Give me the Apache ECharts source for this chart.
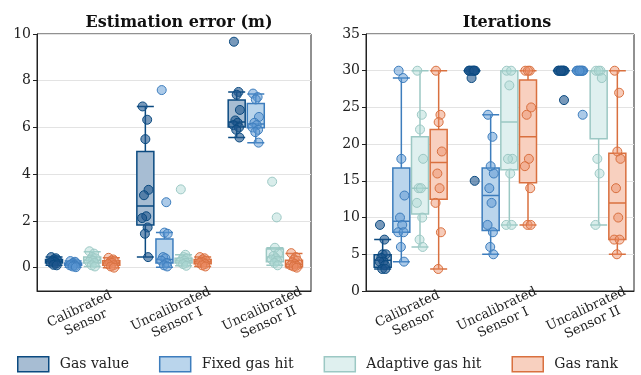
<!DOCTYPE html>
<html>
<head>
<meta charset="utf-8">
<script src="https://cdn.jsdelivr.net/npm/echarts@6/dist/echarts.min.js"></script>
<style>
  html, body { margin: 0; padding: 0; background: #fff; }
  #main { width: 641px; height: 375px; }
</style>
</head>
<body>
<div id="main"></div>
<script>
// 类别 / 系列
const CATS = ['Calibrated\nSensor', 'Uncalibrated\nSensor I', 'Uncalibrated\nSensor II'];
const NAMES = ['Gas value', 'Fixed gas hit', 'Adaptive gas hit', 'Gas rank'];
const ERR_TICKS = [0, 2, 4, 6, 8, 10];

// Estimation error: box stats [min, Q1, median, Q3, max] per category
const ERR_GAS_VALUE_BOX = [[0.1, 0.2, 0.27, 0.35, 0.45], [0.45, 1.82, 2.64, 4.97, 6.9], [5.57, 6.02, 6.23, 7.17, 7.52]];
const ERR_FIXED_BOX = [[0.02, 0.1, 0.15, 0.2, 0.28], [0.02, 0.2, 0.35, 1.23, 1.5], [5.35, 5.99, 6.15, 7.03, 7.43]];
const ERR_ADAPTIVE_BOX = [[0.05, 0.2, 0.32, 0.45, 0.68], [0.08, 0.2, 0.3, 0.4, 0.55], [0.1, 0.25, 0.45, 0.8, 0.85]];
const ERR_RANK_BOX = [[0.0, 0.1, 0.2, 0.3, 0.42], [0.05, 0.17, 0.25, 0.35, 0.45], [0.0, 0.05, 0.15, 0.32, 0.6]];

// Estimation error: individual runs
const ERR_GAS_VALUE_PTS = [[0.45, 0.4, 0.35, 0.32, 0.28, 0.25, 0.22, 0.18, 0.12, 0.1], [6.9, 6.33, 5.5, 3.33, 3.1, 2.2, 2.12, 1.72, 1.45, 0.45], [9.67, 7.52, 7.4, 6.75, 6.3, 6.2, 6.1, 6.0, 5.9, 5.57]];
const ERR_FIXED_PTS = [[0.28, 0.25, 0.2, 0.18, 0.15, 0.12, 0.1, 0.08, 0.05, 0.02], [7.6, 2.8, 1.5, 1.45, 0.45, 0.4, 0.3, 0.2, 0.1, 0.05], [7.45, 7.3, 7.2, 6.45, 6.2, 6.1, 6.0, 5.9, 5.8, 5.35]];
const ERR_ADAPTIVE_PTS = [[0.7, 0.6, 0.45, 0.4, 0.35, 0.3, 0.25, 0.2, 0.1, 0.05], [3.35, 0.55, 0.45, 0.4, 0.35, 0.3, 0.25, 0.2, 0.15, 0.08], [3.68, 2.15, 0.85, 0.6, 0.5, 0.4, 0.35, 0.3, 0.2, 0.1]];
const ERR_RANK_PTS = [[0.42, 0.35, 0.3, 0.28, 0.22, 0.2, 0.15, 0.1, 0.05, 0.0], [0.45, 0.4, 0.35, 0.3, 0.25, 0.22, 0.2, 0.15, 0.1, 0.05], [0.62, 0.45, 0.35, 0.3, 0.22, 0.15, 0.1, 0.08, 0.05, 0.0]];

// Iterations: box stats
const IT_GAS_VALUE_BOX = [[3, 3.25, 4.2, 4.95, 7], [30, 30, 30, 30, 30], [30, 30, 30, 30, 30]];
const IT_FIXED_BOX = [[4, 8, 9.5, 16.75, 29], [5, 8.25, 13, 16.75, 24], [30, 30, 30, 30, 30]];
const IT_ADAPTIVE_BOX = [[6, 10.5, 14, 21, 30], [9, 16.5, 23, 30, 30], [9, 20.75, 30, 30, 30]];
const IT_RANK_BOX = [[3, 12.5, 17.5, 22, 30], [9, 14.75, 21, 28.75, 30], [5, 7, 12, 18.75, 30]];

// Iterations: individual runs
const IT_GAS_VALUE_PTS = [[9, 7, 5, 5, 4.5, 4, 4, 3.5, 3, 3], [30, 30, 30, 30, 30, 30, 30, 30, 29, 15], [30, 30, 30, 30, 30, 30, 30, 30, 30, 26]];
const IT_FIXED_PTS = [[30, 29, 18, 13, 10, 9, 8, 8, 6, 4], [24, 21, 17, 16, 14, 12, 9, 8, 6, 5], [30, 30, 30, 30, 30, 30, 30, 30, 30, 24]];
const IT_ADAPTIVE_PTS = [[30, 24, 22, 18, 14, 14, 12, 10, 7, 6], [30, 30, 28, 18, 18, 16, 9, 9], [30, 30, 30, 29, 18, 16, 9]];
const IT_RANK_PTS = [[30, 24, 23, 19, 16, 14, 12, 8, 3], [30, 30, 30, 25, 24, 18, 17, 14, 9, 9], [30, 27, 19, 18, 14, 10, 7, 7, 5]];

// 样式
const BORDER = ['#0b4a80', '#3d7dbd', '#9cc8c4', '#d9703f'];
const FILL = ['#a7bdd3', '#bad5ec', '#dff0ef', '#f8d0bf'];
const DOT = ['rgba(30,85,140,0.6)', 'rgba(90,150,210,0.5)', 'rgba(170,215,210,0.45)', 'rgba(235,140,100,0.45)'];
const JITTER = [-0.03, 0.02, 0.0, 0.035, -0.015, 0.01, -0.035, 0.025, -0.005, 0.03];
const FONT = 'DejaVu Serif';

// 与 ECharts boxplot 布局一致的偏移 (类别宽度的比例)
function boxOffset(i, bw) {
  const avail = bw * 0.8 - 2;
  const gap = avail / 4 * 0.3;
  const w = (avail - 3 * gap) / 4;
  return (w / 2 - avail / 2 + i * (gap + w)) / bw;
}

const grids = [
  { left: 37, right: 330, top: 34, bottom: 84, bw: 274 / 3 },
  { left: 366, right: 7, top: 34, bottom: 84, bw: 268 / 3 }
];
const panels = [
  { boxes: [ERR_GAS_VALUE_BOX, ERR_FIXED_BOX, ERR_ADAPTIVE_BOX, ERR_RANK_BOX],
    pts: [ERR_GAS_VALUE_PTS, ERR_FIXED_PTS, ERR_ADAPTIVE_PTS, ERR_RANK_PTS] },
  { boxes: [IT_GAS_VALUE_BOX, IT_FIXED_BOX, IT_ADAPTIVE_BOX, IT_RANK_BOX],
    pts: [IT_GAS_VALUE_PTS, IT_FIXED_PTS, IT_ADAPTIVE_PTS, IT_RANK_PTS] }
];

const series = [];
panels.forEach(function (p, g) {
  p.boxes.forEach(function (box, s) {
    series.push({
      name: NAMES[s], type: 'boxplot', xAxisIndex: g * 2, yAxisIndex: g,
      boxWidth: [17, 17], data: box,
      itemStyle: { color: FILL[s], borderColor: BORDER[s], borderWidth: 1.5 },
      emphasis: { disabled: true }, z: 2
    });
  });
  p.pts.forEach(function (cats, s) {
    const data = [];
    cats.forEach(function (vals, c) {
      vals.forEach(function (v, k) {
        data.push([c + boxOffset(s, grids[g].bw) + JITTER[k % JITTER.length], v]);
      });
    });
    series.push({
      name: NAMES[s] + ' runs', type: 'scatter', xAxisIndex: g * 2 + 1, yAxisIndex: g,
      symbolSize: 9, data: data, silent: true,
      itemStyle: { color: DOT[s], borderColor: BORDER[s], borderWidth: 1, opacity: 1 },
      z: 3
    });
  });
});

const xAxis = [];
grids.forEach(function (gr, g) {
  xAxis.push({
    type: 'category', gridIndex: g, data: CATS,
    axisLine: { onZero: false, lineStyle: { color: '#222', width: 1 } },
    axisTick: { alignWithLabel: true, length: 4, lineStyle: { color: '#222' } },
    axisLabel: { rotate: 25, align: 'center', verticalAlign: 'middle', margin: 25,
      color: '#222', fontFamily: FONT, fontSize: 13, lineHeight: 15 },
    splitLine: { show: false }
  });
  xAxis.push({ type: 'value', gridIndex: g, min: -0.5, max: 2.5, show: false });
});

const option = {
  animation: false,
  title: [
    { text: 'Estimation error (m)', left: 174, top: 10, textAlign: 'center',
      textStyle: { fontFamily: FONT, fontSize: 16, fontWeight: 'bold', color: '#111' } },
    { text: 'Iterations', left: 502, top: 10, textAlign: 'center',
      textStyle: { fontFamily: FONT, fontSize: 16, fontWeight: 'bold', color: '#111' } }
  ],
  grid: grids.map(function (gr) {
    return { left: gr.left, right: gr.right, top: gr.top, bottom: gr.bottom,
      show: true, borderColor: '#222', borderWidth: 1 };
  }),
  legend: {
    left: 12, top: 351, itemWidth: 31, itemHeight: 15, itemGap: 30, icon: 'rect',
    textStyle: { fontFamily: FONT, fontSize: 14, color: '#222', padding: [0, 0, 0, 6] },
    data: NAMES.map(function (n, i) {
      return { name: n, itemStyle: { color: FILL[i], borderColor: BORDER[i], borderWidth: 1.5 } };
    })
  },
  xAxis: xAxis,
  yAxis: [
    { type: 'value', gridIndex: 0, min: -1, max: 10,
      axisLine: { show: true, onZero: false, lineStyle: { color: '#222' } },
      axisTick: { show: true, length: 4, customValues: ERR_TICKS, lineStyle: { color: '#222' } },
      axisLabel: { customValues: ERR_TICKS, color: '#222', fontFamily: FONT, fontSize: 14, margin: 6 },
      splitLine: { lineStyle: { color: '#e3e3e3' } } },
    { type: 'value', gridIndex: 1, min: 0, max: 35, interval: 5,
      axisLine: { show: true, onZero: false, lineStyle: { color: '#222' } },
      axisTick: { show: true, length: 4, lineStyle: { color: '#222' } },
      axisLabel: { color: '#222', fontFamily: FONT, fontSize: 14, margin: 6 },
      splitLine: { lineStyle: { color: '#e3e3e3' } } }
  ],
  series: series
};

const myChart = echarts.init(document.getElementById('main'));
myChart.setOption(option);
</script>
</body>
</html>
